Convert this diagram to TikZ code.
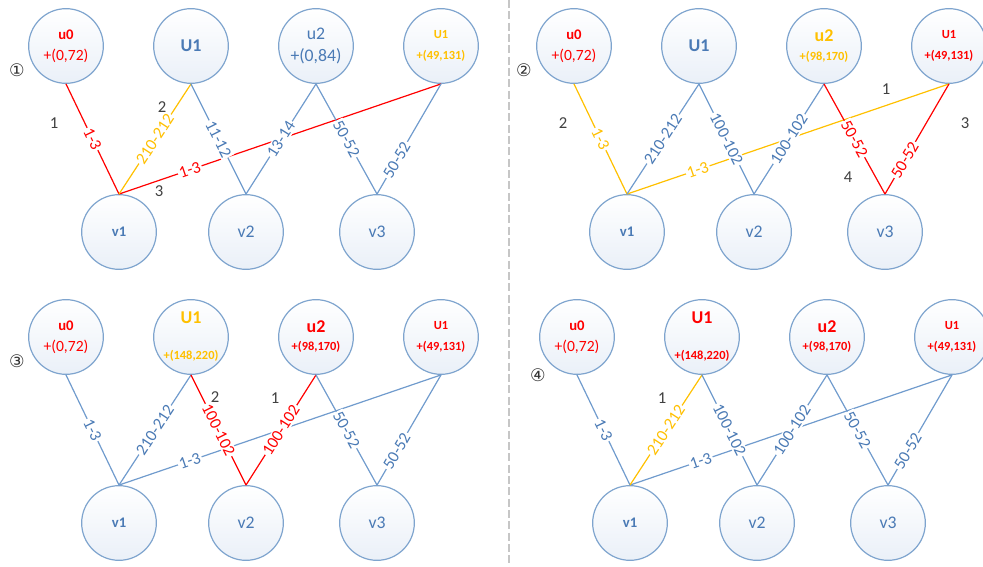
\documentclass[tikz,border=0pt]{standalone}
\usepackage{fontspec}
\setmainfont{Carlito}
\newfontfamily\circfont{DejaVu Sans}
\usetikzlibrary{positioning}

\definecolor{ringblue}{RGB}{126,164,206}
\definecolor{lineblue}{RGB}{112,155,205}
\definecolor{txtblue}{RGB}{74,122,181}
\definecolor{hired}{RGB}{255,0,0}
\definecolor{gold}{RGB}{255,192,0}
\definecolor{fillblue}{RGB}{234,240,248}

\newcommand{\tagsm}{\fontsize{11}{13}\selectfont\bfseries}
\newcommand{\tagbig}{\fontsize{13.5}{15}\selectfont\bfseries}
\newcommand{\valsm}{\fontsize{9.3}{11}\selectfont\bfseries}
\newcommand{\valmd}{\fontsize{11.7}{13}\selectfont}
\newcommand{\vallg}{\fontsize{13.3}{15}\selectfont}

\begin{document}
\begin{tikzpicture}[x=.75pt,y=-.75pt,
  vtx/.style={draw=ringblue,line width=.9pt,circle,minimum size=56pt,inner sep=0pt,
    top color=white,bottom color=fillblue,align=center,text=txtblue,
    font=\fontsize{12}{16}\selectfont},
  blueedge/.style={draw=lineblue,text=txtblue,line width=.9pt},
  rededge/.style={draw=hired,text=hired,line width=.9pt},
  goldedge/.style={draw=gold,text=gold,line width=.9pt},
  lbl/.style={sloped,fill=white,inner sep=1pt,font=\fontsize{12.5}{12.5}\selectfont},
  stepno/.style={text=black!75,font=\fontsize{12.5}{12.5}\selectfont},
  circno/.style={text=black!80,font=\circfont\fontsize{13}{13}\selectfont}]
\path[use as bounding box,clip] (0,0) rectangle (983,567);

\coordinate (sepTop) at (509,0);
\coordinate (sepBot) at (509,567);
\draw[gray!45,line width=.8pt,dash pattern=on 6pt off 2.5pt] (sepTop) -- (sepBot);

% first round
\node[circno] (k1) at (17,70) {①};
\node[vtx,text=hired] (p1u0) at (66,46) {{\tagsm u0}\\{\valmd +(0,72)}};
\node[vtx] (p1U1) at (191,46) {\tagbig U1};
\node[vtx] (p1u2) at (316,46) {{\vallg u2}\\[.5pt]{\vallg +(0,84)}};
\node[vtx,text=gold] (p1U1r) at (441,46) {{\valsm U1}\\{\valsm +(49,131)}};
\node[vtx] (p1v1) at (119,232) {\tagsm v1};
\node[vtx] (p1v2) at (246,232) {\vallg v2};
\node[vtx] (p1v3) at (377,232) {\vallg v3};
\draw[rededge] (p1U1r.south) -- node[lbl,pos=.78] {1-3} (p1v1.north);
\draw[rededge] (p1u0.south) -- node[lbl] {1-3} (p1v1.north);
\draw[goldedge] (p1U1.south) -- node[lbl] {210-212} (p1v1.north);
\draw[blueedge] (p1U1.south) -- node[lbl] {11-12} (p1v2.north);
\draw[blueedge] (p1u2.south) -- node[lbl] {13-14} (p1v2.north);
\draw[blueedge] (p1u2.south) -- node[lbl] {50-52} (p1v3.north);
\draw[blueedge] (p1U1r.south) -- node[lbl,pos=.69] {50-52} (p1v3.north);
\node[stepno] (s11) at (54,123) {1};
\node[stepno] (s12) at (162,107) {2};
\node[stepno] (s13) at (159,191) {3};

% second round
\begin{scope}[shift={(508,0)}]
\node[circno] (k2) at (16,70) {②};
\node[vtx,text=hired] (p2u0) at (66,46) {{\tagsm u0}\\{\valmd +(0,72)}};
\node[vtx] (p2U1) at (191,46) {\tagbig U1};
\node[vtx,text=gold] (p2u2) at (316,46) {{\tagbig u2}\\[-1.75pt]{\valsm +(98,170)}};
\node[vtx,text=hired] (p2U1r) at (441,46) {{\valsm U1}\\{\valsm +(49,131)}};
\node[vtx] (p2v1) at (119,232) {\tagsm v1};
\node[vtx] (p2v2) at (246,232) {\vallg v2};
\node[vtx] (p2v3) at (377,232) {\vallg v3};
\draw[goldedge] (p2U1r.south) -- node[lbl,pos=.78] {1-3} (p2v1.north);
\draw[goldedge] (p2u0.south) -- node[lbl] {1-3} (p2v1.north);
\draw[blueedge] (p2U1.south) -- node[lbl] {210-212} (p2v1.north);
\draw[blueedge] (p2U1.south) -- node[lbl] {100-102} (p2v2.north);
\draw[blueedge] (p2u2.south) -- node[lbl] {100-102} (p2v2.north);
\draw[rededge] (p2u2.south) -- node[lbl] {50-52} (p2v3.north);
\draw[rededge] (p2U1r.south) -- node[lbl,pos=.69] {50-52} (p2v3.north);
\node[stepno] (s22) at (55,123) {2};
\node[stepno] (s21) at (378,89) {1};
\node[stepno] (s23) at (457,123) {3};
\node[stepno] (s24) at (340,177) {4};
\end{scope}

% third round
\begin{scope}[shift={(0,291)}]
\node[circno] (k3) at (17,70) {③};
\node[vtx,text=hired] (p3u0) at (66,46) {{\tagsm u0}\\{\valmd +(0,72)}};
\node[vtx,text=gold] (p3U1) at (191,46) {{\tagbig U1}\\[11pt]{\valsm +(148,220)}};
\node[vtx,text=hired] (p3u2) at (316,46) {{\tagbig u2}\\[-2.5pt]{\valsm +(98,170)}};
\node[vtx,text=hired] (p3U1r) at (441,46) {{\valsm U1}\\{\valsm +(49,131)}};
\node[vtx] (p3v1) at (119,232) {\tagsm v1};
\node[vtx] (p3v2) at (246,232) {\vallg v2};
\node[vtx] (p3v3) at (377,232) {\vallg v3};
\draw[blueedge] (p3U1r.south) -- node[lbl,pos=.78] {1-3} (p3v1.north);
\draw[blueedge] (p3u0.south) -- node[lbl] {1-3} (p3v1.north);
\draw[blueedge] (p3U1.south) -- node[lbl] {210-212} (p3v1.north);
\draw[rededge] (p3U1.south) -- node[lbl] {100-102} (p3v2.north);
\draw[rededge] (p3u2.south) -- node[lbl] {100-102} (p3v2.north);
\draw[blueedge] (p3u2.south) -- node[lbl] {50-52} (p3v3.north);
\draw[blueedge] (p3U1r.south) -- node[lbl,pos=.69] {50-52} (p3v3.north);
\node[stepno] (s32) at (215,106) {2};
\node[stepno] (s31) at (275,107) {1};
\end{scope}

% fourth round
\begin{scope}[shift={(511,291)}]
\node[circno] (k4) at (27,84) {④};
\node[vtx,text=hired] (p4u0) at (66,46) {{\tagsm u0}\\{\valmd +(0,72)}};
\node[vtx,text=hired] (p4U1) at (191,46) {{\tagbig U1}\\[11pt]{\valsm +(148,220)}};
\node[vtx,text=hired] (p4u2) at (316,46) {{\tagbig u2}\\[-2.5pt]{\valsm +(98,170)}};
\node[vtx,text=hired] (p4U1r) at (441,46) {{\valsm U1}\\{\valsm +(49,131)}};
\node[vtx] (p4v1) at (119,232) {\tagsm v1};
\node[vtx] (p4v2) at (246,232) {\vallg v2};
\node[vtx] (p4v3) at (377,232) {\vallg v3};
\draw[blueedge] (p4U1r.south) -- node[lbl,pos=.78] {1-3} (p4v1.north);
\draw[blueedge] (p4u0.south) -- node[lbl] {1-3} (p4v1.north);
\draw[goldedge] (p4U1.south) -- node[lbl] {210-212} (p4v1.north);
\draw[blueedge] (p4U1.south) -- node[lbl] {100-102} (p4v2.north);
\draw[blueedge] (p4u2.south) -- node[lbl] {100-102} (p4v2.north);
\draw[blueedge] (p4u2.south) -- node[lbl] {50-52} (p4v3.north);
\draw[blueedge] (p4U1r.south) -- node[lbl,pos=.69] {50-52} (p4v3.north);
\node[stepno] (s41) at (151,107) {1};
\end{scope}
\end{tikzpicture}
\end{document}
